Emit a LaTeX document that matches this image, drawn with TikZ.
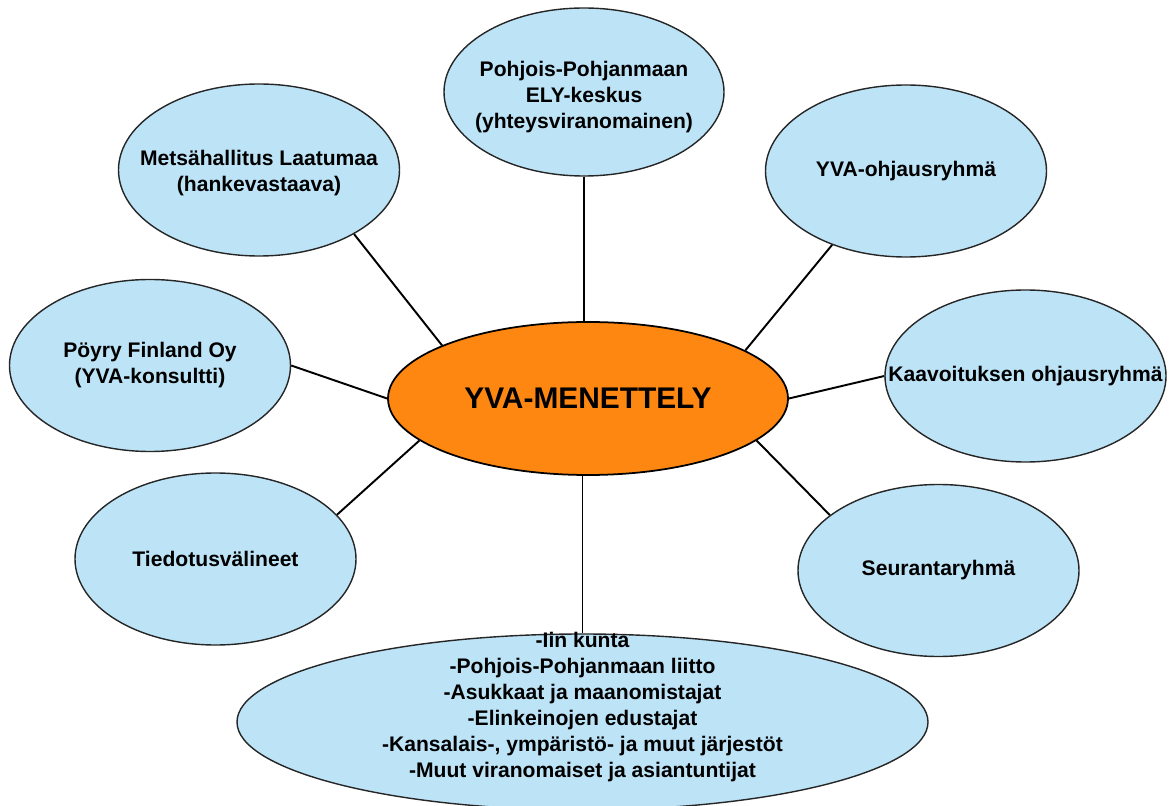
\documentclass[tikz,border=0pt]{standalone}
\usepackage{xcolor}
\usepackage{fontspec}
\setmainfont{Liberation Sans}
\usepackage{tikz}
\usetikzlibrary{shapes,positioning}

\definecolor{bubbleblue}{RGB}{189,227,247}
\definecolor{coreorange}{RGB}{254,135,17}

\begin{document}
\begin{tikzpicture}[
    bubble/.style={ellipse,draw=black!85,line width=0.8pt,fill=bubbleblue,minimum width=5.62cm,minimum height=3.44cm,inner sep=0pt},
    core/.style={ellipse,draw=black,line width=1pt,fill=coreorange,minimum width=8cm,minimum height=3.06cm,inner sep=0pt,font=\fontsize{17}{20}\selectfont\bfseries},
    txt/.style={align=center,font=\fontsize{12}{14.8}\selectfont\bfseries},
    link/.style={line width=1.1pt}
]
    \useasboundingbox (0,0) rectangle (23.44,16.10);

    \node[core] (menettely) at (11.76,8.13) {YVA-MENETTELY};

    \node[bubble,minimum width=5.6cm,minimum height=3.36cm,label={[txt,yshift=-0.1cm]center:{Pohjois-Pohjanmaan\\ELY-keskus\\(yhteysviranomainen)}}] (ely) at (11.68,14.26) {};
    \node[bubble,label={[txt,yshift=-0.07cm]center:{Metsähallitus Laatumaa\\(hankevastaava)}}] (metsa) at (5.18,12.70) {};
    \node[bubble,label={[txt]center:{YVA-ohjausryhmä}}] (ohjaus) at (18.12,12.68) {};
    \node[bubble,label={[txt]center:{Pöyry Finland Oy\\(YVA-konsultti)}}] (poyry) at (3.00,8.79) {};
    \node[bubble,label={[txt]center:{Kaavoituksen ohjausryhmä}}] (kaava) at (20.51,8.58) {};
    \node[bubble,label={[txt]center:{Tiedotusvälineet}}] (media) at (4.31,4.92) {};
    \node[bubble,label={[txt]center:{Seurantaryhmä}}] (seuranta) at (18.77,4.69) {};
    \node[bubble,minimum width=13.82cm,minimum height=3.52cm,label={[txt,yshift=0.3cm]center:{-Iin kunta\\-Pohjois-Pohjanmaan liitto\\-Asukkaat ja maanomistajat\\-Elinkeinojen edustajat\\-Kansalais-, ympäristö- ja muut järjestöt\\-Muut viranomaiset ja asiantuntijat}}] (muut) at (11.65,1.66) {};

    \draw[link] (ely.south) -- (ely.south |- menettely.north);
    \draw[link] (metsa.-34) -- (menettely.160);
    \draw[link] (ohjaus.225) -- (menettely.17);
    \draw[link] (poyry.east) -- (menettely.west);
    \draw[link] (kaava.west) -- (menettely.east);
    \draw[link] (media.20) -- (menettely.194);
    \draw[link] (seuranta.153) -- (menettely.-14);
    \draw[link] (muut.north |- menettely.south) -- (muut.north);
\end{tikzpicture}
\end{document}
